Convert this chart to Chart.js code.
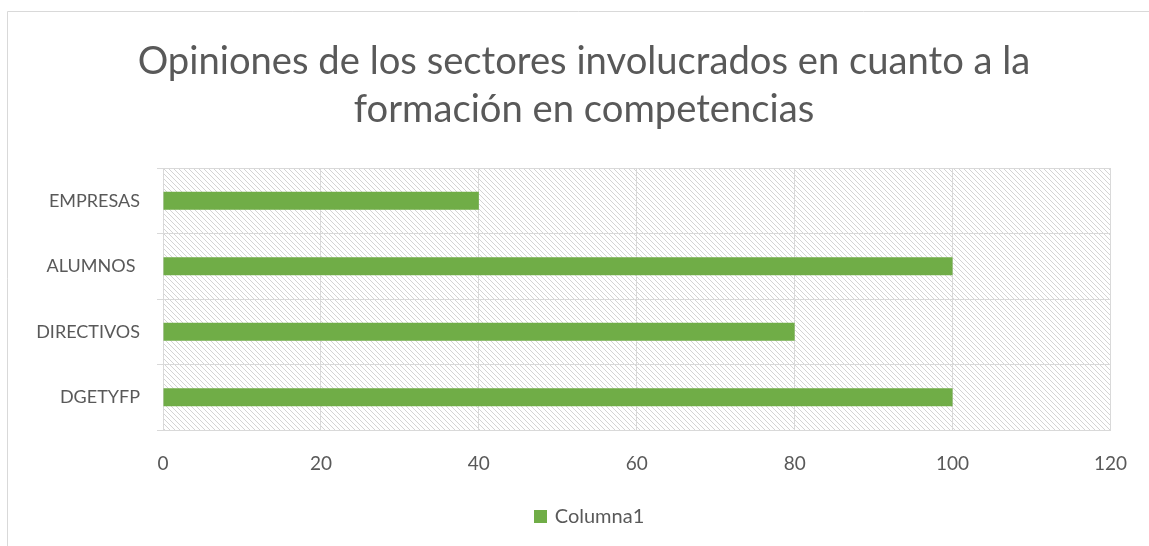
<!DOCTYPE html>
<html>
<head>
<meta charset="utf-8">
<script src="https://cdn.jsdelivr.net/npm/chart.js@4"></script>
<style>
html,body{margin:0;padding:0;background:#fff;}
#wrap{position:relative;width:1149px;height:546px;}
canvas{display:block;}
</style>
</head>
<body>
<div id="wrap"><canvas id="c" width="1149" height="546"></canvas></div>
<script>
const categories = ["EMPRESAS", "ALUMNOS ", "DIRECTIVOS", "DGETYFP"];
const seriesName = "Columna1";
const values = [40, 100, 80, 100];
const xTicks = [0, 20, 40, 60, 80, 100, 120];
const titleLines = ["Opiniones de los sectores involucrados en cuanto a la", "formación en competencias"];

const FONT = "Lato, 'Open Sans', sans-serif";
const TXT = "#595959";
const GRID = "#d9d9d9";
const BAR = "#70AD47";

// fit title size to reference width
const mc = document.createElement('canvas').getContext('2d');
let titleSize = 37;
mc.font = titleSize + "px Lato";
const w = mc.measureText(titleLines[0]).width;
titleSize = Math.round(37 * 893 / w * 10) / 10;

// hatch pattern (downward diagonal)
const tile = document.createElement('canvas');
tile.width = 5; tile.height = 5;
const tc = tile.getContext('2d');
tc.fillStyle = '#fff'; tc.fillRect(0,0,5,5);
tc.fillStyle = '#d4d4d4';
for (let i = 0; i < 5; i++) tc.fillRect(i, i, 1, 1);

const bgPlugin = {
  id: 'bg',
  beforeDraw(chart) {
    const ctx = chart.ctx;
    ctx.save();
    ctx.fillStyle = '#fff';
    ctx.fillRect(0, 0, chart.width, chart.height);
    ctx.strokeStyle = '#d9d9d9';
    ctx.lineWidth = 1;
    ctx.beginPath();
    ctx.moveTo(7.5, chart.height);
    ctx.lineTo(7.5, 11.5);
    ctx.lineTo(chart.width, 11.5);
    ctx.stroke();
    const a = chart.chartArea;
    ctx.fillStyle = ctx.createPattern(tile, 'repeat');
    ctx.fillRect(a.left, a.top, a.right - a.left, a.bottom - a.top);
    ctx.restore();
  },
  afterDraw(chart) {
    const ctx = chart.ctx;
    ctx.save();
    ctx.fillStyle = TXT;
    ctx.font = titleSize + "px " + FONT;
    ctx.textAlign = 'center';
    ctx.textBaseline = 'middle';
    ctx.fillText(titleLines[0], 584, 62);
    ctx.fillText(titleLines[1], 584, 110);
    // legend from dataset
    const ds = chart.data.datasets[0];
    ctx.font = "20px " + FONT;
    const tw = ctx.measureText(ds.label).width;
    const total = 13 + 8 + tw;
    const lx = 589 - total / 2, ly = 516;
    ctx.fillStyle = ds.backgroundColor;
    ctx.fillRect(Math.round(lx), ly - 6, 13, 13);
    ctx.fillStyle = TXT;
    ctx.textAlign = 'left';
    ctx.fillText(ds.label, lx + 21, ly + 1);
    ctx.restore();
  }
};

new Chart(document.getElementById('c'), {
  type: 'bar',
  data: {
    labels: categories,
    datasets: [{
      label: seriesName,
      data: values,
      backgroundColor: BAR,
      borderWidth: 0,
      barPercentage: 0.55,
      categoryPercentage: 0.5
    }]
  },
  plugins: [bgPlugin],
  options: {
    indexAxis: 'y',
    responsive: false,
    animation: false,
    devicePixelRatio: 1,
    layout: { padding: { left: 0, right: 38, top: 0, bottom: 50 } },
    plugins: {
      title: {
        display: true,
        text: titleLines,
        color: 'rgba(0,0,0,0)',
        font: { family: FONT, size: titleSize, weight: 'normal', lineHeight: 48 / titleSize },
        padding: { top: 38, bottom: 34 }
      },
      legend: { display: false },
      tooltip: { enabled: false }
    },
    scales: {
      x: {
        min: 0, max: 120,
        afterBuildTicks(s) { s.ticks = xTicks.map(v => ({ value: v })); },
        ticks: { color: TXT, font: { family: FONT, size: 19 }, padding: 22 },
        grid: { color: GRID, drawTicks: false, lineWidth: 1 },
        border: { color: GRID, width: 1 },
        afterFit(s) { s.height = 66; }
      },
      y: {
        ticks: { color: TXT, font: { family: FONT, size: 18 }, padding: 17 },
        grid: { color: GRID, offset: true, tickLength: 6, lineWidth: 1 },
        border: { color: GRID, width: 1 },
        afterFit(s) { s.width = 163; }
      }
    }
  }
});
</script>
</body>
</html>
